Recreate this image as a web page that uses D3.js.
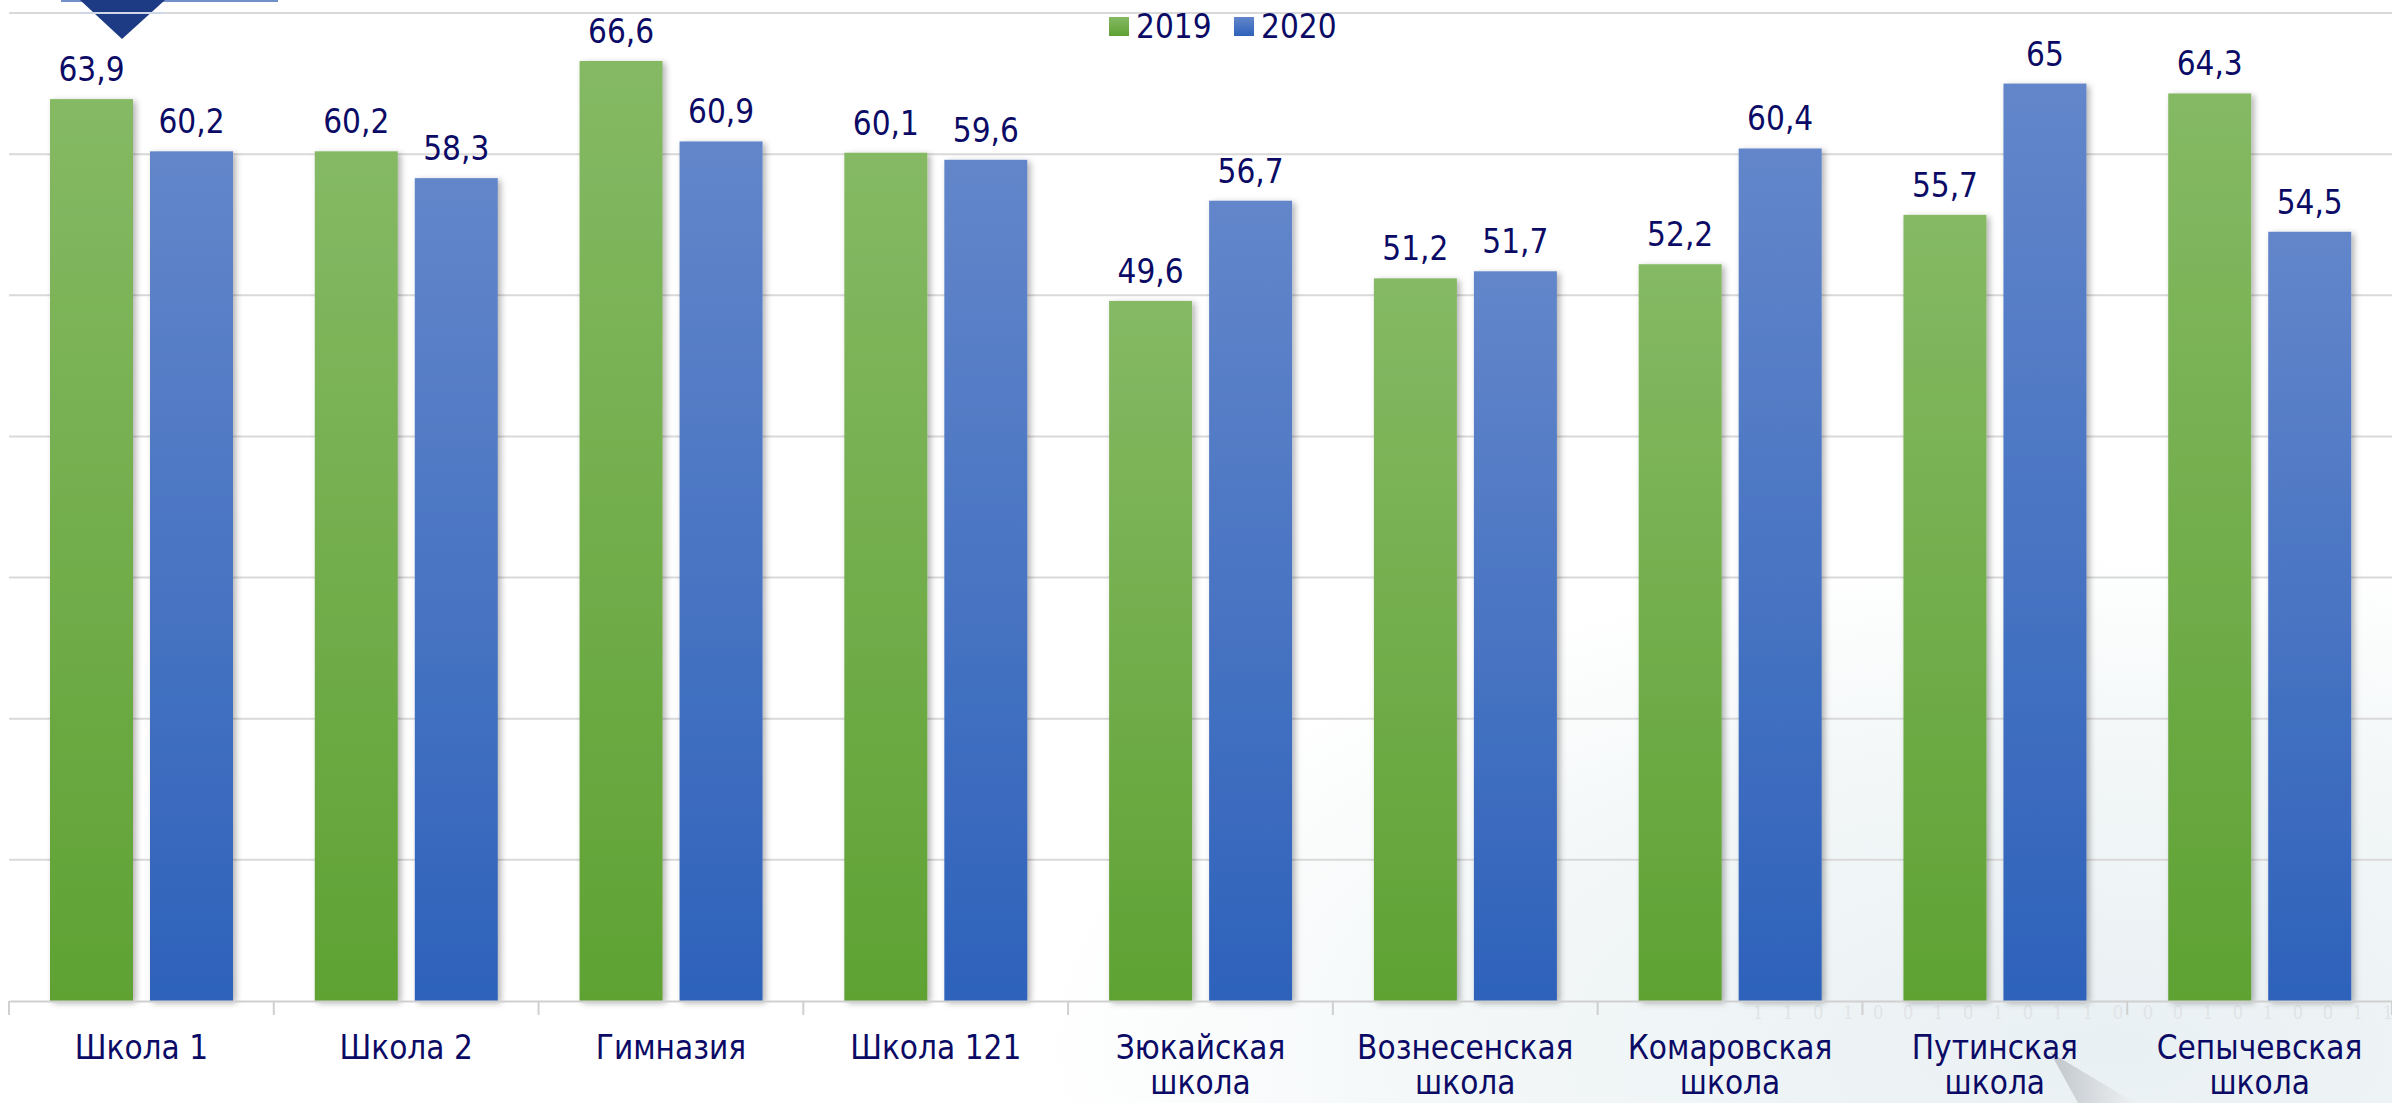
<!DOCTYPE html>
<html>
<head>
<meta charset="utf-8">
<script src="https://cdn.jsdelivr.net/npm/d3@7"></script>
<style>
  html, body { margin: 0; padding: 0; background: #ffffff; overflow: hidden; }
  text { font-family: "DejaVu Sans Condensed", "DejaVu Sans", sans-serif; font-stretch: condensed; }
</style>
</head>
<body>
<div id="grafico"></div>
<script>
// datos
var escuelas = [["Школа 1"], ["Школа 2"], ["Гимназия"], ["Школа 121"], ["Зюкайская", "школа"],
  ["Вознесенская", "школа"], ["Комаровская", "школа"], ["Путинская", "школа"], ["Сепычевская", "школа"]];
var anios = ["2019", "2020"];
var valores_2019 = [63.9, 60.2, 66.6, 60.1, 49.6, 51.2, 52.2, 55.7, 64.3];
var valores_2020 = [60.2, 58.3, 60.9, 59.6, 56.7, 51.7, 60.4, 65, 54.5];
var ticks_y = [10, 20, 30, 40, 50, 60, 70];

var width = 2392, height = 1103;
var colores = {
  "2019": ["#85b964", "#5fa233"],
  "2020": ["#6386ca", "#2e62bb"]
};

var svg = d3.select("#grafico").append("svg")
  .attr("width", width)
  .attr("height", height);

var defs = svg.append("defs");

// degradados de las barras
anios.forEach(function (a) {
  var gr = defs.append("linearGradient")
    .attr("id", "grad" + a)
    .attr("x1", 0).attr("y1", 0).attr("x2", 0).attr("y2", 1);
  gr.append("stop").attr("offset", "0%").attr("stop-color", colores[a][0]);
  gr.append("stop").attr("offset", "100%").attr("stop-color", colores[a][1]);
});

var sombra = defs.append("filter").attr("id", "sombra")
  .attr("x", "-20%").attr("y", "-5%").attr("width", "150%").attr("height", "115%");
sombra.append("feDropShadow")
  .attr("dx", 3).attr("dy", 2).attr("stdDeviation", 3)
  .attr("flood-color", "#000").attr("flood-opacity", 0.3);

// fondo con marca de agua tenue
var fondo = defs.append("radialGradient").attr("id", "fondo")
  .attr("cx", "88%").attr("cy", "95%").attr("r", "45%");
fondo.append("stop").attr("offset", "0%").attr("stop-color", "#e9f0f3");
fondo.append("stop").attr("offset", "60%").attr("stop-color", "#f3f7f8");
fondo.append("stop").attr("offset", "100%").attr("stop-color", "#ffffff");

var cuna = defs.append("linearGradient").attr("id", "cuna")
  .attr("x1", 0).attr("y1", 0).attr("x2", 1).attr("y2", 0);
cuna.append("stop").attr("offset", "0%").attr("stop-color", "#b9bec4");
cuna.append("stop").attr("offset", "100%").attr("stop-color", "#eef1f3");

svg.append("rect").attr("width", width).attr("height", height).attr("fill", "url(#fondo)");

svg.append("text")
  .attr("x", 1753).attr("y", 1019)
  .attr("textLength", 640)
  .attr("lengthAdjust", "spacing")
  .style("font-family", "DejaVu Serif")
  .style("font-size", "18px")
  .attr("fill", "#e0e4e7")
  .text("1101001010110001010011");

svg.append("path")
  .attr("d", "M2050,1052 L2078,1103 L2135,1103 Z")
  .attr("fill", "url(#cuna)").attr("opacity", 0.85);

// escalas
var nombres = escuelas.map(function (d) { return d.join(" "); });
var x0 = d3.scaleBand().domain(nombres).range([9, width]).padding(0);
var x1 = d3.scaleBand().domain(anios).range([41, 224]).paddingInner(0.17);
var y = d3.scaleLinear().domain([0, 70]).range([1001, 13]);

// líneas de cuadrícula
svg.append("g").selectAll("line")
  .data(ticks_y)
  .enter().append("line")
  .attr("x1", 9).attr("x2", width)
  .attr("y1", function (d) { return y(d); })
  .attr("y2", function (d) { return y(d); })
  .attr("stroke", "#d9d9d9")
  .attr("stroke-width", 2);

// logo superior izquierdo
svg.append("rect").attr("x", 61).attr("y", 0).attr("width", 217).attr("height", 2).attr("fill", "#7290c8");
svg.append("path").attr("d", "M80,0 L165,0 L122,39 Z").attr("fill", "#1d3b85");
svg.append("line").attr("x1", 80).attr("x2", 165).attr("y1", 13).attr("y2", 13)
  .attr("stroke", "#cfd6e6").attr("stroke-width", 2);

// barras
var datos = nombres.map(function (n, i) {
  return { nombre: n, vals: [{ a: "2019", v: valores_2019[i] }, { a: "2020", v: valores_2020[i] }] };
});

var grupos = svg.append("g").selectAll("g")
  .data(datos)
  .enter().append("g")
  .attr("transform", function (d) { return "translate(" + x0(d.nombre) + ",0)"; });

grupos.selectAll("rect")
  .data(function (d) { return d.vals; })
  .enter().append("rect")
  .attr("x", function (d) { return x1(d.a); })
  .attr("y", function (d) { return y(d.v); })
  .attr("width", x1.bandwidth())
  .attr("height", function (d) { return y(0) - y(d.v); })
  .attr("fill", function (d) { return "url(#grad" + d.a + ")"; })
  .attr("filter", "url(#sombra)");

grupos.selectAll("text")
  .data(function (d) { return d.vals; })
  .enter().append("text")
  .attr("x", function (d) { return x1(d.a) + x1.bandwidth() / 2; })
  .attr("y", function (d) { return y(d.v) - 18; })
  .attr("text-anchor", "middle")
  .attr("fill", "#0b0b66")
  .style("font-size", "33px")
  .text(function (d) { return String(d.v).replace(".", ","); });

// eje X
var ejeX = d3.axisBottom(x0).tickSize(0).tickFormat("");
var gx = svg.append("g").attr("transform", "translate(0," + y(0) + ")").call(ejeX);
gx.select(".domain").attr("stroke", "#d0d0d0").attr("stroke-width", 2);

var limites = nombres.map(function (n) { return x0(n); }).concat([width]);
gx.selectAll(".sep")
  .data(limites)
  .enter().append("line")
  .attr("class", "sep")
  .attr("x1", function (d) { return d; }).attr("x2", function (d) { return d; })
  .attr("y1", 0).attr("y2", 14)
  .attr("stroke", "#d0d0d0").attr("stroke-width", 2);

// etiquetas de las escuelas (dos líneas cuando hace falta)
var etiquetas = svg.append("g").selectAll("text")
  .data(escuelas)
  .enter().append("text")
  .attr("text-anchor", "middle")
  .attr("fill", "#0b0b66")
  .style("font-size", "33px")
  .attr("transform", function (d) {
    return "translate(" + (x0(d.join(" ")) + x0.bandwidth() / 2) + ",1059)";
  });

etiquetas.selectAll("tspan")
  .data(function (d) { return d; })
  .enter().append("tspan")
  .attr("x", 0)
  .attr("y", function (d, i) { return i * 35; })
  .text(function (d) { return d; });

// leyenda
var leyenda = svg.append("g").attr("transform", "translate(1109,0)");
var itemLeyenda = leyenda.selectAll("g")
  .data(anios)
  .enter().append("g")
  .attr("transform", function (d, i) { return "translate(" + (i * 125) + ",0)"; });

itemLeyenda.append("rect")
  .attr("x", 0).attr("y", 17)
  .attr("width", 20).attr("height", 19)
  .attr("fill", function (d) { return "url(#grad" + d + ")"; });

itemLeyenda.append("text")
  .attr("x", 27).attr("y", 38)
  .attr("fill", "#0b0b66")
  .style("font-size", "33px")
  .text(function (d) { return d; });
</script>
</body>
</html>
